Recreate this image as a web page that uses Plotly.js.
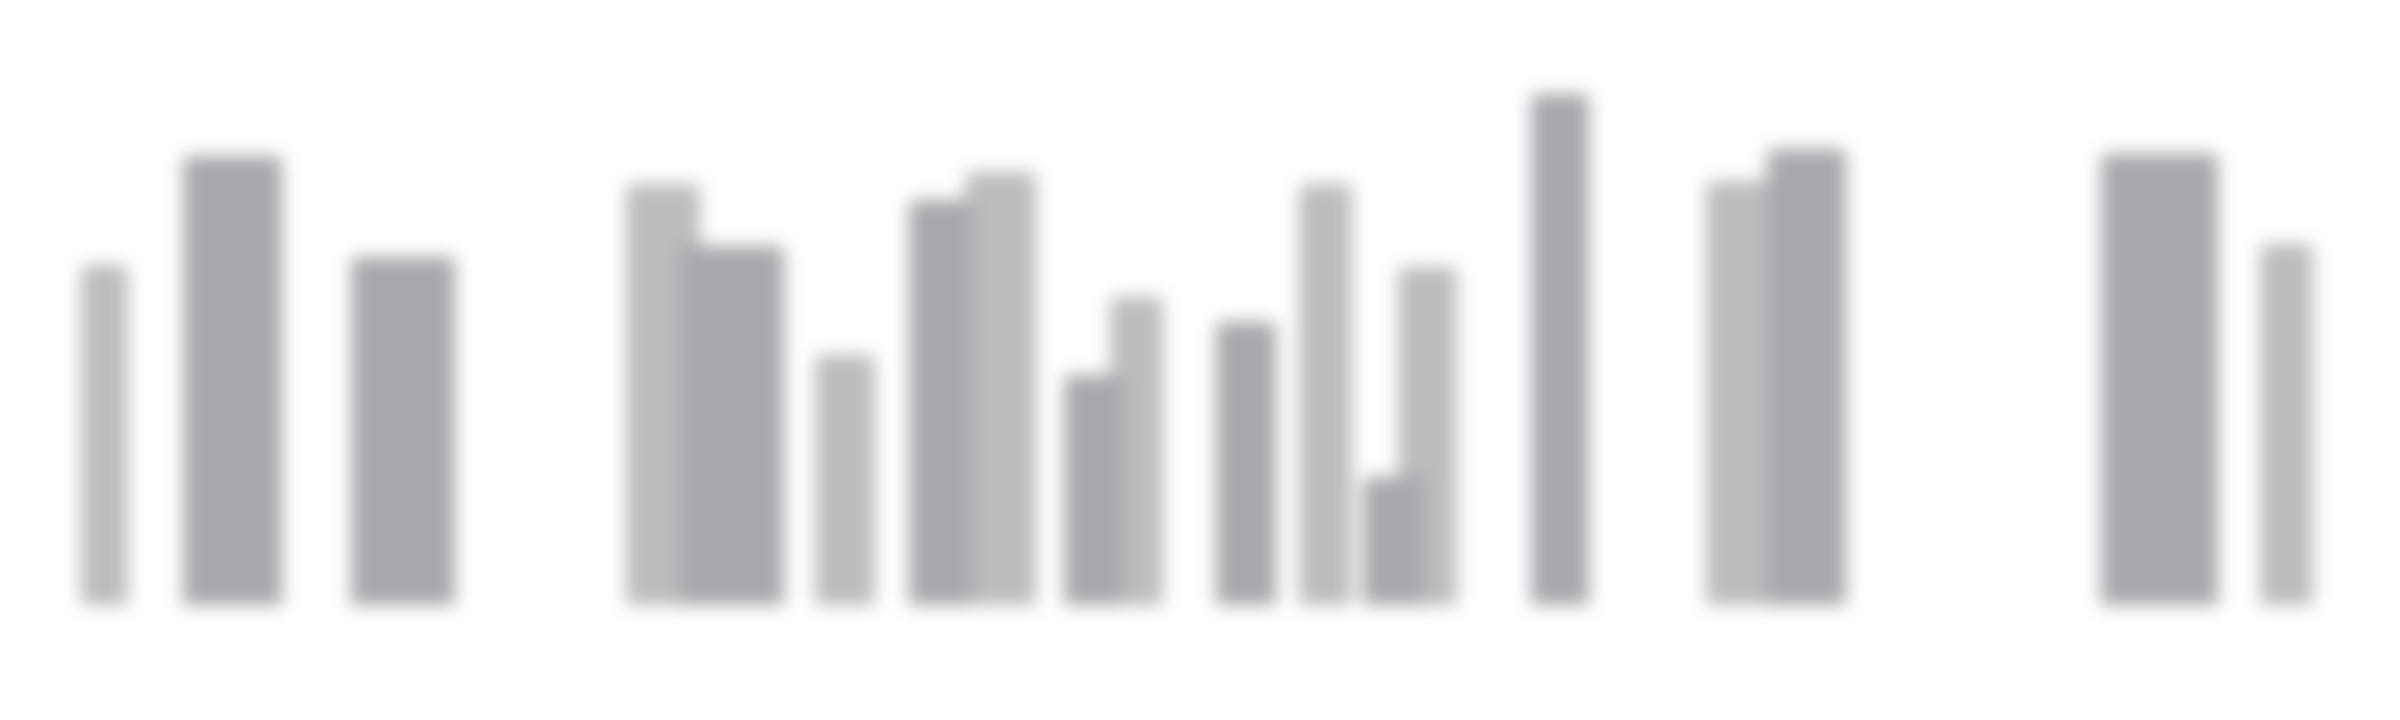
<!DOCTYPE html>
<html>
<head>
<meta charset="utf-8">
<script src="https://cdn.plot.ly/plotly-3.0.1.min.js"></script>
<style>
  html, body { margin: 0; padding: 0; background: #ffffff; overflow: hidden; }
  #chart { width: 2400px; height: 720px; filter: blur(9px); }
</style>
</head>
<body>
<div id="chart"></div>
<script>
// Light-grey series
const lightPos    = [104.5, 663, 845, 1000.5, 1136.5, 1325.5, 1427.5, 1738, 2286.5];
const lightWidth  = [47, 74, 60, 71, 53, 53, 59, 64, 53];
const lightValues = [340, 421, 250, 433, 308, 421, 338, 424, 361];

// Dark-grey series
const darkPos    = [232.5, 403, 732, 940.5, 1093.5, 1246, 1393.5, 1560, 1806.5, 2159.5];
const darkWidth  = [99, 104, 104, 63, 59, 60, 61, 58, 79, 117];
const darkValues = [449, 348, 359, 405, 230, 283, 128, 511, 456, 451];

const traces = [
  { type: 'bar', x: lightPos, y: lightValues, width: lightWidth,
    marker: { color: '#bbbcbe', line: { width: 0 }, cornerradius: 6 }, hoverinfo: 'skip', showlegend: false },
  { type: 'bar', x: darkPos, y: darkValues, width: darkWidth,
    marker: { color: '#a7a8ac', line: { width: 0 }, cornerradius: 6 }, hoverinfo: 'skip', showlegend: false }
];

const layout = {
  width: 2400, height: 720,
  margin: { l: 0, r: 0, t: 0, b: 115, pad: 0 },
  paper_bgcolor: '#ffffff', plot_bgcolor: '#ffffff',
  barmode: 'overlay',
  showlegend: false,
  xaxis: { range: [0, 2400], visible: false, showgrid: false, zeroline: false, fixedrange: true },
  yaxis: { range: [0, 605], visible: false, showgrid: false, zeroline: false, fixedrange: true }
};

Plotly.newPlot('chart', traces, layout, { staticPlot: true, displayModeBar: false });
</script>
</body>
</html>
